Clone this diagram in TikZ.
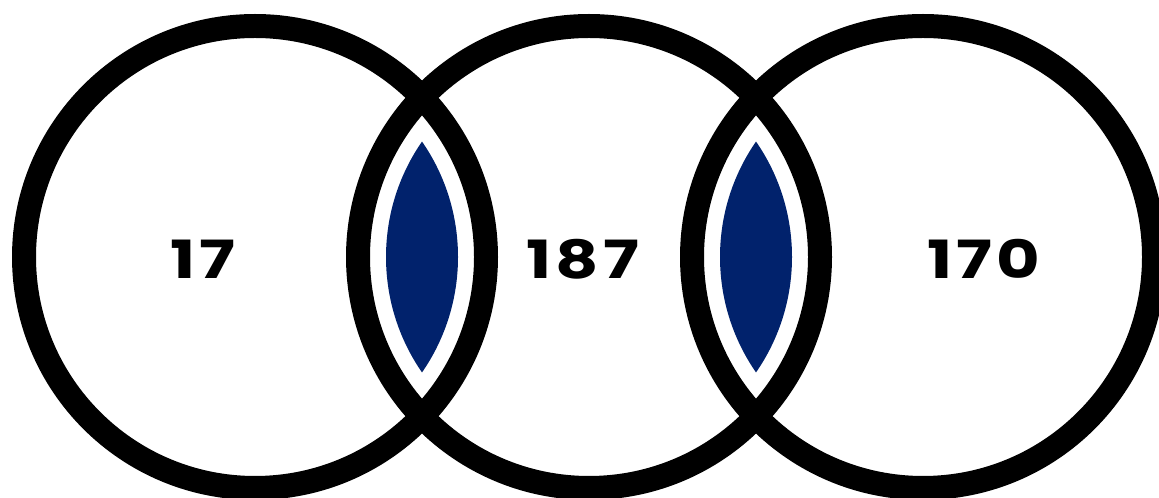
\documentclass[tikz,border=0pt]{standalone}
\usepackage{fontspec}
\setmainfont{Poppins}[LetterSpace=6]
\usepackage{graphicx}
\usepackage{tikz}
\definecolor{vennnavy}{HTML}{01226C}
\definecolor{vennink}{HTML}{000000}
\newcommand{\wide}[1]{\scalebox{1.27}[1]{#1}}

\begin{document}
\begin{tikzpicture}[x=0.02cm, y=0.02cm]
  \tikzset{ring/.style={draw=vennink, line width=0.48cm},
           count/.style={font=\fontsize{30}{34}\selectfont\bfseries, text=vennink, inner sep=0pt}}
  \clip (0,0) rectangle (1159,497);
  \coordinate (left) at (255,240);
  \coordinate (mid) at (589,240);
  \coordinate (right) at (923,240);
  % overlaps
  \begin{scope}
    \clip (left) circle (203);
    \fill[vennnavy] (mid) circle (203);
  \end{scope}
  \begin{scope}
    \clip (mid) circle (203);
    \fill[vennnavy] (right) circle (203);
  \end{scope}
  \draw[ring] (left) circle (231);
  \draw[ring] (mid) circle (231);
  \draw[ring] (right) circle (231);
  \node[count] (nleft) at (203,238) {\wide{17}};
  \node[count] (nmid) at (583,238) {\wide{187}};
  \node[count] (nright) at (984,238) {\wide{170}};
\end{tikzpicture}
\end{document}
